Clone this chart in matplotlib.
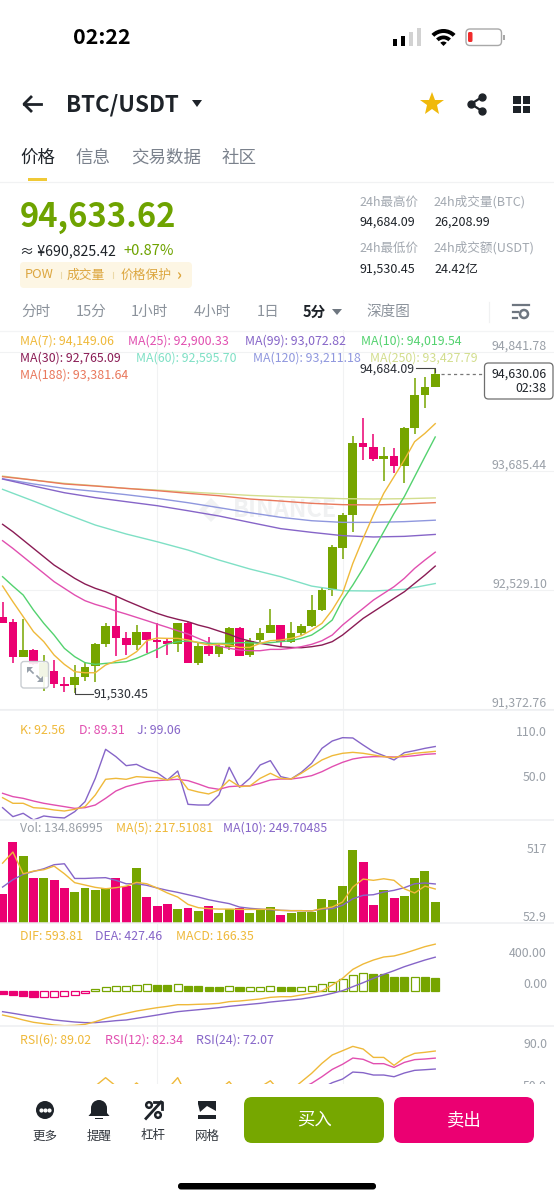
import matplotlib
matplotlib.use('Agg')
import numpy as np
import matplotlib.pyplot as plt
from matplotlib.patches import Rectangle, FancyBboxPatch, Circle, Wedge, Polygon

plt.rcParams['font.family'] = ['Noto Sans CJK SC', 'DejaVu Sans']

###### candles #######
opens = [92267, 92222, 91885, 91943, 91690, 91742, 91619, 91609, 91690, 91794, 92008, 92176, 92063, 92005, 92121,
         92047, 92037, 92014, 92205, 91827, 91988, 91917, 91982, 92157, 91901, 92047, 92118, 92189, 92027, 92118,
         92186, 92338, 92539, 92947, 93265, 93961, 93922, 93812, 93828, 93737, 94113, 94427, 94508]
highs = [92419, 92248, 92248, 91956, 91901, 91852, 91690, 91804, 91836, 92014, 92215, 92468, 92128, 92192, 92128,
         92215, 92063, 92215, 92225, 92014, 92073, 92021, 92170, 92176, 92063, 92160, 92345, 92189, 92225, 92202,
         92484, 92565, 92970, 93278, 94029, 94201, 94045, 93925, 93909, 94120, 94593, 94606, 94684.09]
lows = [92209, 91820, 91885, 91804, 91554, 91577, 91545, 91530.45, 91652, 91635, 91982, 91891, 91901, 91950, 91917,
        91869, 91901, 91933, 91820, 91801, 91891, 91885, 91950, 91891, 91885, 92031, 92111, 91988, 92021, 92095,
        92176, 92332, 92474, 92837, 93099, 93796, 93783, 93592, 93666, 93572, 94048, 94304, 94502]
closes = [92215, 91885, 91943, 91820, 91820, 91619, 91600, 91681, 91781, 92005, 92180, 92069, 92005, 92124, 92047,
          92034, 92014, 92205, 91827, 91988, 91917, 91982, 92157, 91898, 92034, 92115, 92189, 92031, 92115, 92183,
          92335, 92533, 92947, 93258, 93961, 93929, 93812, 93828, 93737, 94107, 94424, 94502, 94630.06]

###### moving averages #######
ma7 = [92571, 92419, 92274, 92128, 92031, 91901, 91810, 91739, 91729, 91729, 91804, 91843, 91869, 91933, 92040,
       92066, 92063, 92063, 92047, 92021, 91998, 92008, 91998, 91975, 91975, 92014, 92040, 92047, 92063, 92089,
       92144, 92209, 92338, 92500, 92792, 93035, 93261, 93472, 93634, 93796, 93974, 94055, 94149.06]
ma10 = [92662, 92571, 92484, 92338, 92209, 92095, 91966, 91885, 91827, 91810, 91820, 91827, 91836, 91869, 91911,
        91956, 92008, 92031, 92037, 92024, 92014, 92014, 92014, 92021, 92021, 92014, 92021, 92031, 92040, 92063,
        92095, 92160, 92241, 92435, 92581, 92743, 92921, 93099, 93277, 93440, 93634, 93828, 94019.54]
ma25 = [93012, 92937, 92856, 92775, 92695, 92614, 92549, 92484, 92429, 92393, 92364, 92329, 92299, 92267, 92235,
        92202, 92170, 92137, 92105, 92063, 92021, 91988, 91966, 91950, 91943, 91943, 91956, 91956, 91966, 91982,
        92005, 92040, 92095, 92192, 92274, 92354, 92435, 92500, 92565, 92646, 92743, 92824, 92900.33]
ma30 = [93171, 93099, 93018, 92937, 92856, 92775, 92711, 92646, 92591, 92549, 92516, 92474, 92429, 92387, 92345,
        92306, 92274, 92248, 92225, 92192, 92167, 92134, 92102, 92063, 92037, 92014, 91998, 91982, 91975, 91972,
        91982, 91998, 92031, 92095, 92176, 92257, 92322, 92387, 92452, 92516, 92597, 92678, 92765.09]
# the slow ones read every third candle
slow_idx = [0, 3, 6, 9, 12, 15, 18, 21, 24, 27, 30, 33, 36, 39, 42]
ma60 = [93511, 93397, 93277, 93164, 93077, 93002, 92921, 92824, 92737, 92662, 92571, 92526, 92523, 92539, 92595.70]
ma99 = [93611, 93543, 93478, 93430, 93391, 93352, 93303, 93252, 93190, 93129, 93093, 93061, 93048, 93054, 93072.82]
ma120 = [93614, 93563, 93520, 93491, 93459, 93423, 93381, 93333, 93284, 93239, 93206, 93190, 93190, 93197, 93211.18]
ma188 = [93634, 93601, 93563, 93543, 93520, 93498, 93472, 93449, 93417, 93397, 93375, 93362, 93359, 93368, 93381.64]
ma250 = [93640, 93601, 93569, 93546, 93520, 93504, 93485, 93469, 93452, 93440, 93430, 93420, 93417, 93420, 93427.79]

###### kdj #######
kdj_k = [30.0, 22.4, 22.4, 16.5, 15.6, 13.4, 12.0, 14.3, 17.9, 33.6, 54.8, 56.1, 54.8, 58.4, 57.5, 57.0, 53.9, 59.7,
         41.3, 37.7, 35.0, 40.4, 53.9, 44.9, 45.8, 56.1, 62.9, 56.1, 55.2, 62.9, 71.9, 80.9, 86.7, 89.9, 91.2, 89.9,
         87.6, 85.4, 84.0, 87.6, 89.9, 91.2, 92.56]
kdj_d = [35.9, 31.4, 29.1, 25.5, 22.4, 20.1, 17.9, 15.6, 16.5, 20.1, 29.1, 39.0, 44.9, 48.5, 51.6, 53.0, 53.9, 54.8,
         53.0, 48.5, 43.5, 41.3, 44.9, 45.8, 45.8, 49.4, 53.9, 55.2, 55.2, 57.0, 59.7, 65.1, 71.9, 77.7, 82.2, 84.5,
         85.4, 85.4, 84.9, 85.4, 86.7, 88.5, 89.31]
kdj_j = [16.5, 4.4, 8.9, -0.1, 5.3, 3.5, 2.6, 11.1, 24.6, 56.1, 95.3, 85.4, 73.2, 75.0, 68.3, 63.8, 53.9, 66.0,
         21.0, 20.1, 20.1, 33.6, 71.0, 44.0, 56.1, 74.1, 80.0, 58.4, 55.2, 64.2, 76.4, 96.6, 106.5, 111.0, 110.6, 101.1,
         92.1, 86.7, 80.9, 90.8, 93.5, 96.6, 99.06]

###### volume #######
volume = [183, 517, 430, 288, 288, 275, 226, 196, 224, 213, 224, 290, 236, 349, 164, 106, 124, 87, 96, 77, 109, 66,
          87, 98, 64, 85, 102, 52.9, 66, 72, 72, 155, 145, 236, 469, 388, 117, 211, 162, 173, 290, 332, 134.87]
vol_ma5 = [383, 454, 315, 332, 341, 364, 315, 258, 243, 228, 219, 226, 236, 260, 251, 224, 192, 166, 119, 98, 92, 89,
           89, 87, 87, 87, 89, 81, 79, 79, 77, 92, 102, 134, 230, 281, 273, 283, 273, 219, 192, 236, 217.51]
vol_ma10 = [230, 277, 311, 330, 347, 373, 379, 285, 285, 288, 290, 273, 251, 251, 241, 224, 209, 196, 181, 166, 149,
            136, 124, 102, 94, 89, 85, 81, 79, 79, 77, 89, 92, 113, 155, 177, 181, 198, 209, 226, 251, 256, 249.70]

###### macd #######
macd_hist = [-47, -60, -68, -81, -78, -75, -68, -51, -30, 26, 51, 60, 64, 77, 81, 74, 70, 85, 64, 60, 51, 47, 64, 43,
             47, 51, 60, 47, 47, 51, 64, 81, 111, 149, 204, 230, 217, 213, 179, 170, 179, 170, 166.35]
dif = [-311, -340, -374, -404, -421, -438, -447, -443, -430, -396, -353, -319, -289, -260, -238, -217, -200, -179,
       -179, -174, -170, -162, -140, -132, -119, -106, -85, -77, -77, -55, -34, -4, 72, 157, 272, 340, 391, 430, 443,
       477, 519, 562, 593.81]
dea = [-268, -289, -311, -332, -353, -374, -387, -400, -408, -408, -396, -383, -374, -353, -332, -311, -289, -268,
       -255, -243, -230, -217, -200, -187, -174, -162, -145, -132, -119, -106, -85, -64, -34, 0, 51, 102, 157, 208,
       255, 306, 349, 391, 427.46]

###### rsi (left part is mostly covered by the bottom bar) #######
rsi6 = [30, 25, 30, 27, 28, 25, 24, 32, 40, 56, 63.9, 56, 50, 59, 50, 49, 53, 63.9, 45, 50, 46, 52, 60.2, 48, 54, 55,
        61, 50, 52, 60, 68.0, 77.4, 85.3, 89.3, 93.4, 90.9, 83.0, 83.0, 75.5, 82.7, 86.8, 87.8, 89.02]
rsi12 = [35, 33, 33, 32, 32, 31, 30, 33, 36, 42, 46, 45, 44, 47, 45, 45, 46, 50, 46, 47, 46, 47, 50, 47, 48, 49, 51,
         49, 50, 54, 58.6, 64.8, 71.7, 76.5, 82.4, 81.2, 77.1, 77.1, 73.6, 78.3, 80.9, 81.5, 82.34]
rsi24 = [38, 37, 37, 36, 36, 35, 35, 36, 38, 41, 43, 43, 42, 44, 43, 43, 44, 46, 44, 44, 44, 45, 46, 45, 45, 46, 47,
         46, 47, 49, 51, 54, 59.2, 62.6, 69.2, 68.6, 66.4, 66.4, 64.8, 68.3, 70.8, 71.4, 72.07]

###### axis texts #######
price_ticks = [94841.78, 93685.44, 92529.10, 91372.76]
kdj_ticks = [110.0, 50.0]
vol_ticks = [434, 0]
vol_tick_labels = ['517', '52.9']
macd_ticks = [400.0, 0.0]
rsi_ticks = [90.0, 50.0]

GREEN = '#76A500'
PINK = '#EB0072'
YELLOW = '#EFB93A'
MAGENTA = '#E14FB0'
PURPLE = '#8665C8'
MINT = '#53D26F'
MAROON = '#8A1C55'
TEAL = '#7FE0C5'
PERI = '#8F97DE'
LIME = '#D3DE8E'
SALMON = '#E9785C'
GRAY = '#9AA0A8'
DARK = '#1E2329'
GRID = '#F1F2F3'

W, H = 554, 1200
fig = plt.figure(figsize=(W / 100, H / 100), dpi=100)
x = np.arange(len(closes))
up = np.array(closes) >= np.array(opens)
colors = [GREEN if u else PINK for u in up]


def panel(top, bottom, ylim):
    ax = fig.add_axes([0, 1 - bottom / H, 1, (bottom - top) / H], zorder=2)
    ax.patch.set_visible(False)
    ax.set_xlim(-0.252, 53.53)
    ax.set_ylim(*ylim)
    ax.axis('off')
    for i in (15, 33):
        ax.axvline(i, color=GRID, lw=0.8, zorder=0)
    return ax


def tick_text(ax, value, s):
    ax.annotate(s, (1, value), xycoords=('axes fraction', 'data'), xytext=(-5, 4.2), textcoords='offset points',
                ha='right', va='center', fontsize=8.9, color=GRAY, annotation_clip=False)


# backdrop with the watermark
back = fig.add_axes([0, 0, 1, 1], zorder=0)
back.set_xlim(0, W)
back.set_ylim(H, 0)
back.axis('off')
back.add_patch(Polygon([(211, 498), (223, 510), (211, 522), (199, 510)], closed=True, fc='#F1F2F3', ec='none'))
back.add_patch(Polygon([(211, 505), (216, 510), (211, 515), (206, 510)], closed=True, fc='white', ec='none'))
back.text(233, 510, 'BINANCE', fontsize=17, fontweight='bold', color='#F0F1F2', va='center', ha='left')

####### price ########
ax = panel(330, 710, (91367, 95059))
for p in price_ticks:
    ax.axhline(p, color=GRID, lw=0.8, zorder=0)
    tick_text(ax, p, f'{p:,.2f}')
ax.vlines(x, lows, highs, colors=colors, lw=1.1, zorder=4)
ax.bar(x, np.abs(np.array(closes) - np.array(opens)) + 6, 0.84, np.minimum(opens, closes) - 3, color=colors, zorder=4)
ax.plot(slow_idx, ma250, color=LIME, lw=1, zorder=5)
ax.plot(slow_idx, ma188, color=SALMON, lw=1, zorder=5)
ax.plot(slow_idx, ma120, color=PERI, lw=1, zorder=5)
ax.plot(slow_idx, ma99, color=PURPLE, lw=1, zorder=5)
ax.plot(slow_idx, ma60, color=TEAL, lw=1, zorder=5)
ax.plot(x, ma30, color=MAROON, lw=1, zorder=5)
ax.plot(x, ma25, color=MAGENTA, lw=1, zorder=5)
ax.plot(x, ma10, color=MINT, lw=1, zorder=5)
ax.plot(x, ma7, color=YELLOW, lw=1, zorder=5)
ax.plot([42.6, 51.2], [closes[-1], closes[-1]], color='#777777', lw=0.9, ls=(0, (2.5, 2.5)), zorder=3)

####### kdj ########
ax = panel(710, 822, (148.36, -2.84)[::-1])
ax.plot(x, kdj_j, color=PURPLE, lw=1, zorder=3)
ax.plot(x, kdj_d, color=MAGENTA, lw=1, zorder=4)
ax.plot(x, kdj_k, color=YELLOW, lw=1, zorder=5)
for t in kdj_ticks:
    tick_text(ax, t, f'{t:.1f}')

####### volume ########
ax = panel(820, 923, (0, 659))
ax.bar(x, volume, 0.87, color=colors, zorder=3)
ax.plot(x, vol_ma10, color=PURPLE, lw=1, zorder=4)
ax.plot(x, vol_ma5, color=YELLOW, lw=1, zorder=5)
for t, s in zip(vol_ticks, vol_tick_labels):
    tick_text(ax, t, s)

####### macd ########
ax = panel(924, 1026, (-451, 851))
for i, v in enumerate(macd_hist):
    c = GREEN if v > 0 else PINK
    hollow = i > 0 and v > macd_hist[i - 1]
    ax.bar(i, v, 0.78, facecolor='white' if hollow else c, edgecolor=c, linewidth=0.9, zorder=3)
ax.plot(x, dea, color=PURPLE, lw=1, zorder=4)
ax.plot(x, dif, color=YELLOW, lw=1, zorder=5)
for t in macd_ticks:
    tick_text(ax, t, f'{t:.2f}')

####### rsi ########
ax = panel(1026, 1085, (57, 112.6))
ax.plot(x, rsi24, color=PURPLE, lw=1, zorder=3)
ax.plot(x, rsi12, color=MAGENTA, lw=1, zorder=4)
ax.plot(x, rsi6, color=YELLOW, lw=1, zorder=5)
for t in rsi_ticks:
    tick_text(ax, t, f'{t:.1f}')

####### app screen around the chart ########
ui = fig.add_axes([0, 0, 1, 1], zorder=5)
ui.patch.set_visible(False)
ui.set_xlim(0, W)
ui.set_ylim(H, 0)
ui.axis('off')


def label(px, py, s, size, color=DARK, weight='normal', ha='left'):
    ui.text(px, py + 1, s, fontsize=size, color=color, fontweight=weight, ha=ha, va='center')


def rect(x0, y0, x1, y1, color):
    ui.add_patch(Rectangle((x0, y0), x1 - x0, y1 - y0, fc=color, ec='none'))


def rounded(x0, y0, x1, y1, r, fc, ec='none', lw=0):
    ui.add_patch(FancyBboxPatch((x0 + r, y0 + r), x1 - x0 - 2 * r, y1 - y0 - 2 * r, boxstyle=f'round,pad={r}',
                                fc=fc, ec=ec, lw=lw))


# bottom bar covers the rsi panel
rect(0, 1084, W, H, 'white')

# panel separators
for sy in (710, 819.5, 923, 1026):
    ui.plot([0, W], [sy, sy], color='#EEEFF1', lw=1.1)

# status bar
label(73, 36, '02:22', 15.5, 'black', 'bold')
for bx, top, c in zip((393, 401, 409, 417), (39.3, 36, 32, 28.3), ('black', 'black', '#D2D2D2', '#D2D2D2')):
    rect(bx, top, bx + 4, 45.7, c)
ui.add_patch(Wedge((443.5, 46), 17, 225, 315, width=4, fc='black', ec='none'))
ui.add_patch(Wedge((443.5, 46), 10.5, 225, 315, width=3.8, fc='black', ec='none'))
ui.add_patch(Wedge((443.5, 46), 4.5, 225, 315, fc='black', ec='none'))
rounded(466, 29, 501.5, 45.5, 4, 'white', '#A8A8A8', 1)
rounded(468, 32, 472.5, 42, 1.5, '#F02B2B')
rect(503, 34.5, 504.5, 40, '#A8A8A8')

# title row
ui.plot([24, 41], [104, 104], color=DARK, lw=2)
ui.plot([31, 24, 31], [97, 104, 111], color=DARK, lw=2)
label(66, 104, 'BTC/USDT', 16.1, DARK, 'bold')
ui.add_patch(Polygon([(192, 100), (202, 100), (197, 107)], closed=True, fc=DARK, ec='none'))
ui.plot([432], [104], marker='*', ms=18, color='#F0B90B', mew=0)
ui.plot([482, 471, 482], [97, 104, 111], color=DARK, lw=1.6)
ui.plot([482, 471, 482], [97, 104, 111], marker='o', ms=5, color=DARK, lw=0)
for sx, sy in ((513, 96), (522.5, 96), (513, 105.5), (522.5, 105.5)):
    rect(sx, sy, sx + 7.5, sy + 7.5, DARK)

# tabs
label(20, 157, '价格', 12.6, DARK)
label(75, 157, '信息', 12.6, '#7A818C')
label(131, 157, '交易数据', 12.6, '#7A818C')
label(222, 157, '社区', 12.6, '#7A818C')
rect(27.5, 178, 47, 181, '#F0C936')
ui.plot([0, W], [181.5, 181.5], color='#F1F2F3', lw=0.9)

# price block
label(20, 216, '94,633.62', 23.6, '#6EA300', 'bold')
label(20, 250, '≈ ¥690,825.42', 10.2, DARK)
label(123, 250, '+0.87%', 10.6, '#6EA300')
rounded(20, 262, 192, 288, 4, '#FDF6E4')
label(25, 274, 'POW', 9.2, '#DCA63F')
label(67, 274, '成交量', 9.2, '#DCA63F')
label(121, 274, '价格保护', 9.2, '#DCA63F')
label(176, 274, '›', 11, '#DCA63F', 'bold')
ui.plot([61, 61], [272, 278], color='#EBD9A8', lw=0.8)
ui.plot([113, 113], [272, 278], color='#EBD9A8', lw=0.8)

# 24h stats
label(359, 201, '24h最高价', 9, '#A2A8B0')
label(434, 201, '24h成交量(BTC)', 9.1, '#A2A8B0')
label(359, 221.5, '94,684.09', 9, DARK)
label(434, 221.5, '26,208.99', 9, DARK)
label(359, 247, '24h最低价', 9, '#A2A8B0')
label(434, 247, '24h成交额(USDT)', 9.1, '#A2A8B0')
label(359, 268, '91,530.45', 9, DARK)
label(434, 268, '24.42亿', 9, DARK)

# timeframe row
for px, s in ((21, '分时'), (76, '15分'), (131, '1小时'), (194, '4小时'), (257, '1日'), (366, '深度图')):
    label(px, 311, s, 10.5, '#8B929B')
label(303, 311, '5分', 10.5, DARK, 'bold')
ui.add_patch(Polygon([(332, 309), (342, 309), (337, 315)], closed=True, fc='#6E7680', ec='none'))
ui.plot([489, 489], [302, 322], color='#F0F1F2', lw=0.9)
ui.plot([513, 529], [305, 305], color='#6E7680', lw=1.6)
ui.plot([513, 518], [312, 312], color='#6E7680', lw=1.6)
ui.plot([513, 517], [318, 318], color='#6E7680', lw=1.6)
ui.add_patch(Circle((524, 314), 4, fc='white', ec='#6E7680', lw=1.8))
ui.plot([0, W], [331, 331], color='#F3F4F5', lw=0.9)

# legends
label(20, 340, 'MA(7): 94,149.06', 8.9, YELLOW)
label(128, 340, 'MA(25): 92,900.33', 8.9, MAGENTA)
label(245, 340, 'MA(99): 93,072.82', 8.9, PURPLE)
label(361, 340, 'MA(10): 94,019.54', 8.9, MINT)
label(20, 357, 'MA(30): 92,765.09', 8.9, MAROON)
label(136, 357, 'MA(60): 92,595.70', 8.9, TEAL)
label(253, 357, 'MA(120): 93,211.18', 8.9, PERI)
label(370, 357, 'MA(250): 93,427.79', 8.9, LIME)
label(20, 374, 'MA(188): 93,381.64', 8.9, SALMON)
label(20, 730, 'K: 92.56', 8.9, YELLOW)
label(79, 730, 'D: 89.31', 8.9, MAGENTA)
label(137, 730, 'J: 99.06', 8.9, PURPLE)
label(20, 827, 'Vol: 134.86995', 8.9, GRAY)
label(116, 827, 'MA(5): 217.51081', 8.9, YELLOW)
label(223, 827, 'MA(10): 249.70485', 8.9, PURPLE)
label(20, 936, 'DIF: 593.81', 8.9, YELLOW)
label(95, 936, 'DEA: 427.46', 8.9, PURPLE)
label(176, 936, 'MACD: 166.35', 8.9, YELLOW)
label(20, 1039, 'RSI(6): 89.02', 8.9, YELLOW)
label(105, 1039, 'RSI(12): 82.34', 8.9, MAGENTA)
label(196, 1039, 'RSI(24): 72.07', 8.9, PURPLE)

# last price box, high and low tags
rounded(484.5, 363, 553, 399, 4, 'white', '#6E6E6E', 0.9)
label(547, 373, '94,630.06', 8.9, DARK, ha='right')
label(547, 388, '02:38', 8.9, DARK, ha='right')
label(415, 368, '94,684.09', 8.9, '#2B2F36', ha='right')
ui.plot([416, 435, 435], [368, 368, 372], color='#444444', lw=0.8)
label(94, 693, '91,530.45', 8.9, '#2B2F36')
ui.plot([74.5, 74.5, 93], [688, 694, 694], color='#444444', lw=0.8)

# expand button
rounded(21, 661.5, 48.5, 688, 3, '#FFFFFFE6', '#C9CDD2', 1)
ui.add_patch(Polygon([(27, 667), (33, 667), (27, 673)], closed=True, fc='#97A0AA', ec='none'))
ui.add_patch(Polygon([(43, 682), (37, 682), (43, 676)], closed=True, fc='#97A0AA', ec='none'))
ui.plot([28, 33], [668, 673], color='#97A0AA', lw=1.2)
ui.plot([37, 42], [676, 681], color='#97A0AA', lw=1.2)

# bottom nav
ui.add_patch(Circle((45, 1110), 9, fc=DARK, ec='none'))
ui.plot([41, 45, 49], [1110, 1110, 1110], marker='o', ms=2, lw=0, color='white')
ui.add_patch(Wedge((99, 1108), 8, 180, 360, fc=DARK, ec='none'))
rect(91, 1108, 107, 1116, DARK)
ui.add_patch(Polygon([(88.5, 1116), (109.5, 1116), (107, 1113), (91, 1113)], closed=True, fc=DARK, ec='none'))
rect(95, 1117.5, 103, 1119, DARK)
ui.add_patch(Circle((149, 1105), 2.8, fc='white', ec=DARK, lw=1.8))
ui.add_patch(Circle((158, 1115), 2.8, fc='white', ec=DARK, lw=1.8))
ui.plot([146, 161], [1118.5, 1102], color=DARK, lw=2)
ui.plot([154, 162, 162], [1102, 1102, 1109], color=DARK, lw=2)
rect(198, 1101, 216, 1104, DARK)
ui.add_patch(Polygon([(198, 1104), (216, 1104), (216, 1111), (207, 1106), (200, 1112)], closed=True, fc=DARK, ec='none'))
rect(198, 1115, 216, 1118.5, DARK)
label(45, 1135, '更多', 9, '#33383F', ha='center')
label(99, 1135, '提醒', 9, '#33383F', ha='center')
label(153, 1135, '杠杆', 9, '#33383F', ha='center')
label(207, 1135, '网格', 9, '#33383F', ha='center')
rounded(244, 1097, 384, 1143, 8, '#76A700')
rounded(394, 1097, 534, 1143, 8, '#EB0072')
label(314, 1119, '买入', 12.5, 'white', ha='center')
label(464, 1119, '卖出', 12.5, 'white', ha='center')
rounded(178, 1183, 376, 1189.5, 3, 'black')

fig.savefig('out.png', dpi=100)
